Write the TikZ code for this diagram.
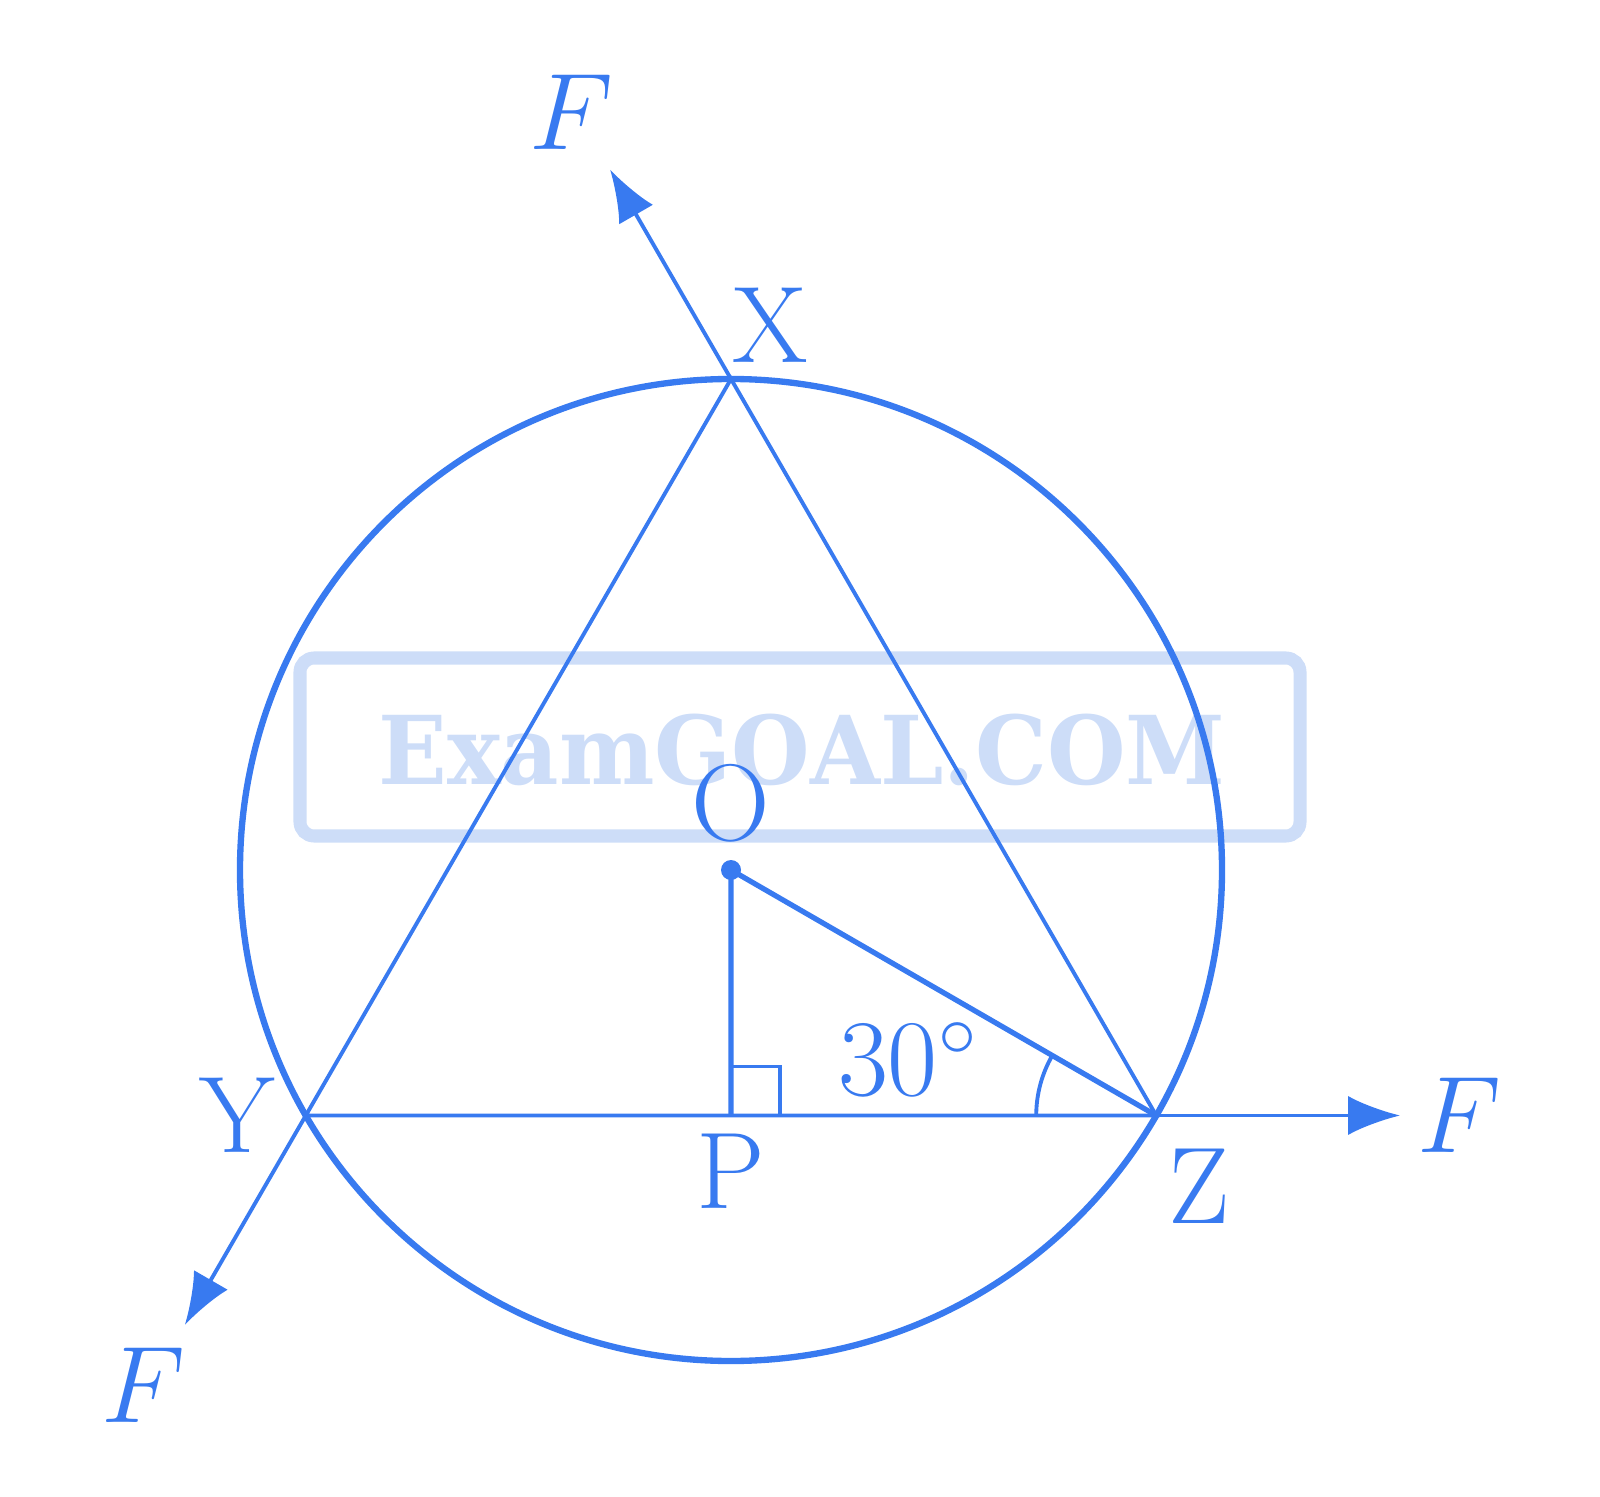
\RequirePackage{fix-cm}
\documentclass[tikz,border=0pt]{standalone}
\usepackage{fontspec}
\newfontfamily\wmfont{DejaVu Serif}
\usepackage{tikz}
\usetikzlibrary{arrows.meta}
\usetikzlibrary{calc}
\definecolor{penblue}{RGB}{56,122,240}
\definecolor{markblue}{RGB}{205,221,248}

\begin{document}
\begin{tikzpicture}[x=0.01cm, y=0.01cm,
    every node/.style={text=penblue, font=\fontsize{31}{37}\selectfont},
    side/.style={draw=penblue, line width=1.1pt},
    force/.style={side, -{Latex[length=5.2mm, width=3.9mm]}}]

    \useasboundingbox (0, 0) rectangle (1600, 1496);

    % watermark
    \draw [markblue, line width=3.7pt, rounded corners=4pt] (300, 660) rectangle (1300, 838);
    \node (wm) [text=markblue, xscale=0.95, font=\wmfont\bfseries\fontsize{27}{32}\selectfont] at (802, 746) {ExamGOAL.COM};

    % points
    \coordinate (O) at (731, 626);
    \coordinate (X) at ($(O) + (90:491)$);
    \coordinate (Y) at ($(O) + (210:491)$);
    \coordinate (Z) at ($(O) + (330:491)$);
    \coordinate (P) at ($(Y)!0.5!(Z)$);
    \coordinate (fX) at ($(X) + (120:242)$);
    \coordinate (fY) at ($(Y) + (240:242)$);
    \coordinate (fZ) at ($(Z) + (0:244)$);

    % circle and triangle
    \draw [penblue, line width=1.8pt] (O) circle [radius=491];
    \draw [side] (X) -- (Y) -- (Z) -- cycle;

    % forces
    \draw [force] (X) -- (fX);
    \draw [force] (Y) -- (fY);
    \draw [force] (Z) -- (fZ);

    % centre, radius and angle
    \draw [side, line width=1.5pt] (O) -- (P);
    \draw [side, line width=1.5pt] (O) -- (Z);
    \fill [penblue] (O) circle [radius=10];
    \draw [side] ($(P) + (0, 49)$) -- ++(49, 0) -- ++(0, -49);
    \draw [side] ($(Z) + (180:120)$) arc [start angle=180, end angle=150, radius=120];

    % labels
    \node (lO) at (731, 693) {O};
    \node (lX) at (770, 1171) {X};
    \node (lY) at (237, 381) {Y};
    \node (lZ) at (1199, 310) {Z};
    \node (lP) at (731, 325) {P};
    \node (ang) at (908, 437) {$30^\circ$};
    \node (FX) at (571, 1384) {$F$};
    \node (FY) at (143, 111) {$F$};
    \node (FZ) at (1459, 381) {$F$};

  \end{tikzpicture}
\end{document}
